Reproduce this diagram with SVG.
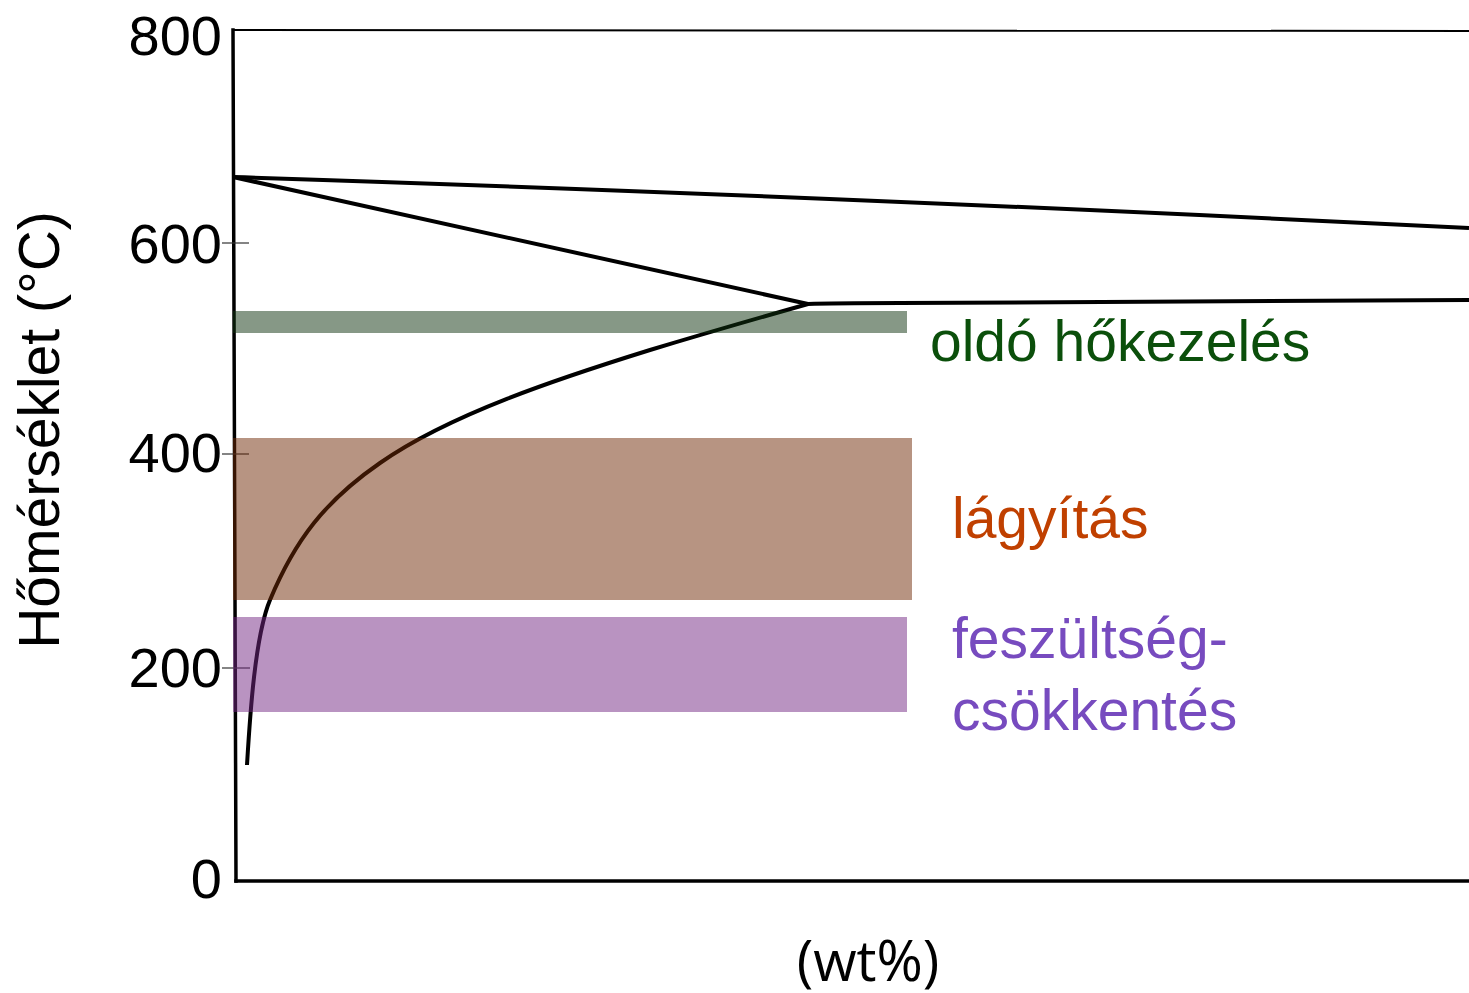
<svg xmlns="http://www.w3.org/2000/svg" width="1469" height="993" viewBox="0 0 1469 993">
  <style>
    .lbl { font-family: "Liberation Sans", Arial, sans-serif; font-size: 57px; fill: #000; }
    .num { text-anchor: end; font-size: 56px; }
    .tick { stroke: #333; stroke-width: 1.2; }
    .axis { stroke: #000; fill: none; stroke-linecap: square; }
    .phase { stroke: #000; stroke-width: 4; fill: none; stroke-linejoin: round; }
    .band { opacity: 0.5; }
  </style>
  <rect width="1469" height="993" fill="#fff"/>

  <!-- plot frame -->
  <g id="frame">
    <line class="axis" x1="233" y1="30" x2="1469" y2="31" stroke-width="2"/>
    <line class="axis" x1="233" y1="30" x2="236" y2="881" stroke-width="3.5"/>
    <line class="axis" x1="236" y1="881" x2="1469" y2="881" stroke-width="3.5"/>
  </g>

  <!-- temperature ticks and labels -->
  <g id="y-axis">
    <line class="tick" x1="222" y1="243" x2="249" y2="243"/>
    <line class="tick" x1="222" y1="454" x2="249" y2="454"/>
    <line class="tick" x1="222" y1="668" x2="250" y2="668"/>
    <text class="lbl num" x="222" y="55">800</text>
    <text class="lbl num" x="222" y="263">600</text>
    <text class="lbl num" x="222" y="472">400</text>
    <text class="lbl num" x="222" y="687">200</text>
    <text class="lbl num" x="222" y="898">0</text>
    <text class="lbl" transform="translate(59,430) rotate(-90)" text-anchor="middle">Hőmérséklet (°C)</text>
  </g>

  <!-- phase boundaries: liquidus, solidus + eutectic, solvus -->
  <g id="phase-lines">
    <path class="phase" d="M233,177 Q800,195 1469,228"/>
    <path class="phase" d="M233,177 L808,304 C830,303 850,303 900,303 L1469,300"/>
    <path class="phase" d="M808,304 C755,319 703,334 650,350 C560,378 450,414 380,463 C325,501 295,540 270,600 C255,636 250,715 247,765"/>
  </g>

  <!-- heat-treatment temperature ranges -->
  <g id="solution-treatment">
    <rect class="band" x="233" y="311" width="674" height="22" fill="#0D310D"/>
    <text class="lbl" x="930" y="361" style="fill:#0B4F0B">oldó hőkezelés</text>
  </g>
  <g id="annealing">
    <rect class="band" x="233" y="438" width="679" height="162" fill="#6F2905"/>
    <text class="lbl" x="952" y="538" style="fill:#C04000">lágyítás</text>
  </g>
  <g id="stress-relief">
    <rect class="band" x="233" y="617" width="674" height="95" fill="#732783"/>
    <text class="lbl" x="952" y="658" style="fill:#774BBF">feszültség-</text>
    <text class="lbl" x="952" y="730" style="fill:#774BBF">csökkentés</text>
  </g>

  <!-- composition axis title -->
  <g id="x-axis">
    <text x="868" y="981" text-anchor="middle" style="font-family:'Open Sans','Liberation Sans',sans-serif;font-size:56px;fill:#000">(wt%)</text>
  </g>
</svg>
